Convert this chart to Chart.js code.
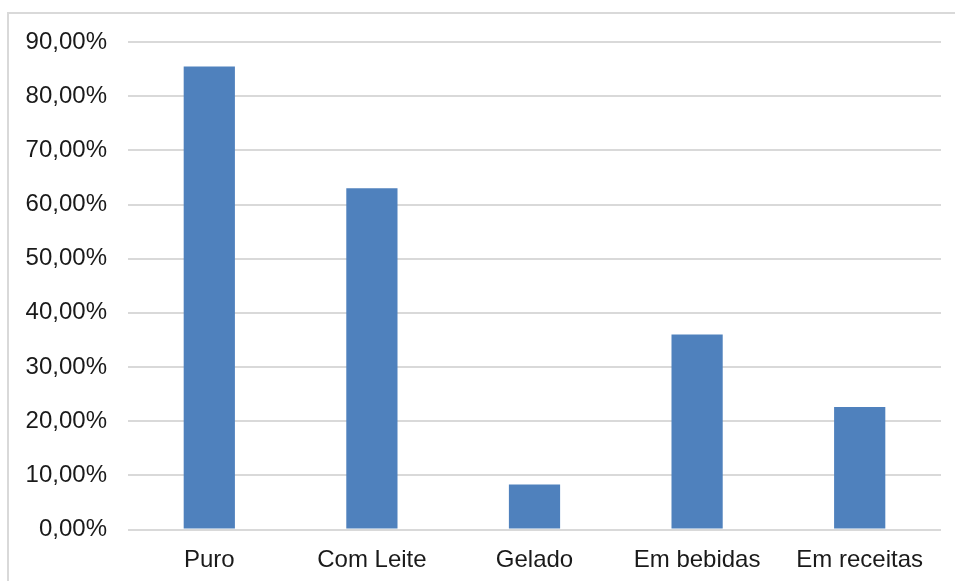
<!DOCTYPE html>
<html>
<head>
<meta charset="utf-8">
<title>Consumo</title>
<script src="https://cdn.jsdelivr.net/npm/chart.js@4/dist/chart.umd.min.js"></script>
<style>
  html, body { margin: 0; padding: 0; background: #fff; overflow: hidden; }
  #frame {
    position: absolute; left: 7px; top: 12px;
    width: 1000px; height: 640px;
    border: 2px solid #d9d9d9;
  }
  #chart { position: absolute; left: 0; top: 0; }
</style>
</head>
<body>
<div id="frame"></div>
<canvas id="chart" width="955" height="581"></canvas>
<script>
// ─── Data ─────────────────────────────────────────────────────────────────────

const categories = ['Puro', 'Com Leite', 'Gelado', 'Em bebidas', 'Em receitas'];
const shares = [85.5, 63.0, 8.3, 36.0, 22.6];   // % of respondents
const yTicks = [0, 10, 20, 30, 40, 50, 60, 70, 80, 90];

const BAR_COLOR = '#4f81bd';
const GRID_COLOR = '#d9d9d9';
const TEXT_COLOR = '#1a1a1a';
const FONT = { family: '"Liberation Sans", Arial, sans-serif', size: 24 };

const pct = v => `${Number(v).toFixed(2).replace('.', ',')}%`;

// ─── Chart ────────────────────────────────────────────────────────────────────

new Chart(document.getElementById('chart'), {
  type: 'bar',
  data: {
    labels: categories,
    datasets: [{
      data: shares,
      backgroundColor: BAR_COLOR,
      borderWidth: 0,
      categoryPercentage: 1,
      barPercentage: 0.315,
    }],
  },
  options: {
    responsive: false,
    animation: false,
    layout: { padding: { top: 42, right: 14, bottom: 0, left: 0 } },
    plugins: { legend: { display: false }, tooltip: { enabled: false } },
    scales: {
      x: {
        border: { display: false },
        grid: { display: false },
        ticks: { color: TEXT_COLOR, font: FONT, padding: 8, maxRotation: 0 },
        afterFit: s => { s.height = 51.5; },
      },
      y: {
        min: 0,
        max: 90,
        border: { display: false },
        grid: { color: GRID_COLOR, lineWidth: 2, drawTicks: false },
        afterBuildTicks: s => { s.ticks = yTicks.map(v => ({ value: v })); },
        afterFit: s => { s.width = 128; },
        ticks: { color: TEXT_COLOR, font: FONT, padding: 21, callback: pct },
      },
    },
  },
});
</script>
</body>
</html>
